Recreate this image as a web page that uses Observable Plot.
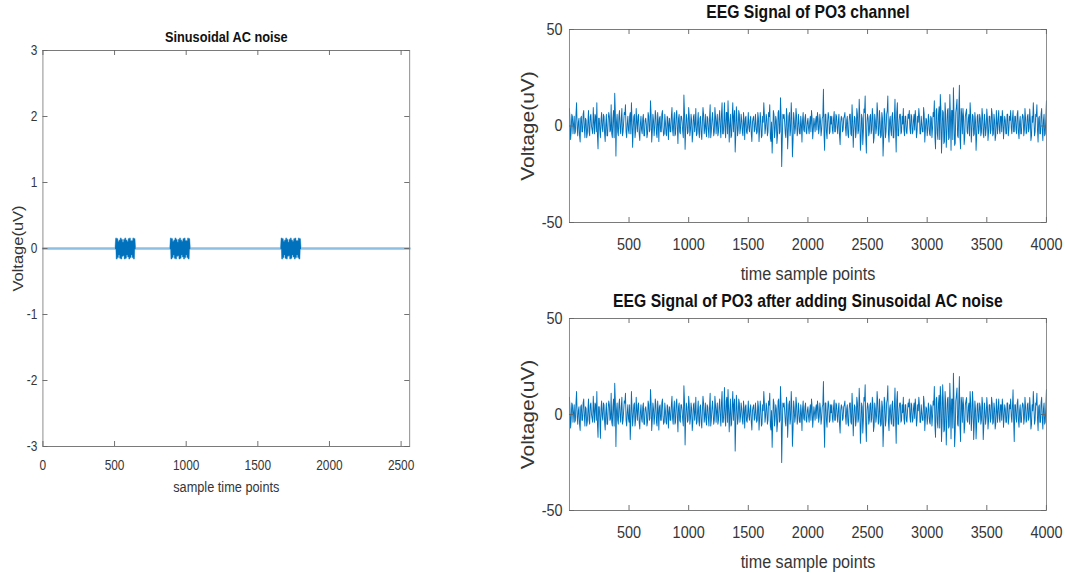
<!DOCTYPE html>
<html><head><meta charset="utf-8">
<script src="https://cdn.jsdelivr.net/npm/d3@7"></script>
<script src="https://cdn.jsdelivr.net/npm/@observablehq/plot@0.6"></script>
<style>
html,body{margin:0;padding:0;background:#fff;width:1068px;height:573px;overflow:hidden}
#stage{position:absolute;left:0;top:0;width:1257px;height:573px;transform:scaleX(0.85);transform-origin:0 0}
#stage svg{position:absolute;overflow:visible}
</style></head><body><div id="stage"></div>
<script>
// ---------- data ----------
const acTitle = "Sinusoidal AC noise";
const acXLabel = "sample time points";
const yLabelText = "Voltage(uV)";
const acXTicks = [0, 500, 1000, 1500, 2000, 2500];
const acYTicks = [-3, -2, -1, 0, 1, 2, 3];
const acLength = 2560;
const acBurstStarts = [507, 889, 1662];
const acBurstStep = 4;
const acBurst = [0, 0.15, -0.15, 0.14, -0.13, 0.1, -0.09, 0.12, -0.14, 0.15, -0.15, 0.13, -0.11, 0.09, -0.1, 0.13, -0.15, 0.15, -0.14, 0.12, -0.09, 0.1, -0.12, 0.14, -0.15, 0.15, -0.13, 0.11, -0.09, 0.11, -0.13, 0.15, -0.15, 0.14, 0];

const eegTitle = "EEG Signal of PO3 channel";
const noisyTitle = "EEG Signal of PO3 after adding Sinusoidal AC noise";
const eegXLabel = "time sample points";
const eegXTicks = [500, 1000, 1500, 2000, 2500, 3000, 3500, 4000];
const eegYTicks = [-50, 0, 50];
const sampleStep = 10;   // eegPO3 / eegPO3Noisy at samples 0,10,...,4000
const midOffset = 5;     // eegPO3Mid at samples 5,15,...,3995
const eegPO3 = [
 9, -7, 6, -4, 5, -3, 12, -5, 4, -8.3,
 5, -3, 8, -6, 3, -4, 8, -5, 6, -2,
 9.5, -4, 5, 12, -11.8, 4, -6, 7, -3, 5,
 -8, 6, -5, 7, -3, 11, -6, 8, 17, -15.5,
 6, -5, 8, -4, 9, -3, 7, 11, -6, 5,
 -4, 7, 12, -11, 5, -6, 9, -3, 6, -7.5,
 5, -4, 6, -5, 4, -6, 7, -3, 13, -8.3,
 6, -5, 8, -4, 7, -8, 5, -3, 8, -5,
 6, -4, 5, -7, 4, -3, 9.5, -5, 7, -4,
 8, -9, 6, -4, 5, -3, 16, -12, 6, -4,
 9.5, -5, 6, -8.3, 5, -3, 9, -4, 7, -6,
 5, -7, 9.5, -4, 6, -5.5, 4, -6, 11, -3,
 7, -5, 9.5, -4, 6, -3, 8, -6, 12, -4,
 12, -6, 7, 13, -8.3, 6, -5, 12, 5, -13.4,
 10, -5, 8, -4, 6, -3, 7, -7, 5, -4,
 7, -3, 5, -8, 4, -3, 6, -4, 7, -8,
 7, -6, 5, 12, -4, 6, -5, 7, 11, -8,
 -14, 8, -6, 5, -9, 7, -4, 14.6, -21, 6,
 6, -4, 9, -11.8, 5, -5, 12, -15.9, 7, -4,
 9, -5, 6, -4, 5, -8.3, 7, -3, 6, -4,
 4, -4, 5, 8, -6.6, 4, -3, 5, 7, -4,
 6, -5, 4, 19, -12.6, 6, -6.6, 7, -4, 5,
 5, -4, 7.5, -3, 5, -4, 6, -9.6, 5, -3,
 4, 7, -5, 5, -6, 6, -4, 11, -11, 5,
 -6, 9, -4, 13.8, -12.6, 6, -9.6, 8.8, 15.5, -14,
 6, -5, 5, -4, 9, -8.8, 6, -4, 12, -5,
 8, -6, 7, -15.5, 9, -6, 6, 15.5, -8.3, 5,
 -5, 7, -6, 13.8, -13.4, 12, -5, 6, -4, 5,
 9, -5, 5, -4, 6, 8, -4, 5, -3, 6,
 8, -6, 5, 9, -4, 5, -3, 9.5, -8.3, 4,
 -5, 6, -4, 5, -6, 7, 13, -11.8, 9, -7,
 10, 16.3, -14, 8, -9, 12, -11, 8, -7, 16.3,
 -12.6, 8, 19.8, -10, 7, 13.8, -6, 21.1, -11.8, 6,
 9, -9.6, 5, 8.8, -4, 6, 12, -8.3, 6, -5,
 7, -12.6, 5, -4, 6, -5, 9, -4, 6, -5,
 8.8, -7.5, 5, -4, 9, -5, 6, -7.5, 8, -4,
 8, -4, 5, 8, -6.6, 5, -4, 6, -5, 5,
 8, -4, 8, -3, 5, -4, 8, -6.6, 5, -4,
 6, -5, 9, -4, 5, -3, 8.8, -7.5, 5, 12,
 -5, 6, 11, -8.3, 5, -4, 9, -7.5, 6, -4,
 13
];
const eegPO3Mid = [
 3, -2, 5, 1, -4, 6, -1, 2, -5, 4,
 -3, 6, -1, 4, -6, 2, -3, 5, 0, -4,
 2, 6, -3, -5, 4, -2, 3, -1, 6, -4,
 1, -5, 3, 5, -2, -4, 4, -6, 7, 2,
 -3, 5, -1, 4, -5, 2, 6, -3, 1, -2,
 5, -4, 3, -1, 6, -3, 2, 5, -4, 1,
 -2, 4, -5, 3, 1, -4, 5, -2, 6, -3,
 3, -1, 5, -6, 2, 4, -3, 6, -1, -4,
 2, -5, 4, 1, -3, 5, -2, 3, -5, 6,
 -1, 4, -3, 5, 2, -6, 7, -2, 4, -3,
 5, -2, 3, -4, 6, 1, -5, 2, -3, 4,
 -4, 2, 6, -1, -3, 5, -2, 4, -6, 3,
 1, -3, 5, 2, -5, 4, -1, 6, -4, 2,
 -2, 7, -4, 3, 1, -6, 5, -3, 8, -5,
 4, -2, 6, -1, 3, -5, 2, 4, -3, 1,
 -1, 3, -4, 2, 5, -2, 1, -3, 4, -2,
 3, -5, 2, 6, -1, 4, -3, 5, -6, 2,
 -4, 6, -2, 3, -5, 8, -3, 5, -7, 4,
 2, -6, 5, -3, 7, -2, 4, -8, 3, -1,
 5, -3, 2, -4, 1, 3, -2, 4, -3, 2,
 -1, 2, -3, 4, -2, 1, 3, -2, 4, -1,
 3, -2, 5, -4, 6, -3, 2, 5, -3, 1,
 -2, 4, -3, 6, -1, 3, -5, 2, 4, -2,
 5, -1, 3, -4, 2, 6, -5, 3, -2, 4,
 -3, 6, -2, 5, -7, 4, -3, 7, -5, 2,
 4, -3, 6, -2, 5, -6, 3, -1, 7, -4,
 2, -5, 4, -7, 6, -3, 8, -4, 3, -2,
 5, -6, 4, -2, 7, -5, 3, 6, -3, 1,
 -2, 5, -3, 2, 4, -1, 6, -4, 3, -2,
 4, -3, 2, 5, -4, 1, -3, 6, -2, 3,
 -2, 3, -5, 4, -1, 5, -6, 8, -4, 6,
 -7, 9, -5, 7, -8, 6, -4, 9, -6, 5,
 8, -7, 6, -9, 10, -5, 7, -6, 9, -4,
 5, -6, 7, -3, 4, -5, 6, -2, 5, -4,
 3, -5, 6, -2, 4, -3, 5, -6, 2, -1,
 4, -3, 5, -2, 6, -4, 3, -5, 2, 4,
 -2, 5, -3, 4, -1, 3, -4, 6, -2, 3,
 -1, 4, -3, 5, -2, 6, -3, 2, -4, 3,
 5, -2, 4, -3, 6, -1, 3, -5, 2, 4,
 -3, 5, -2, 4, -4, 6, -2, 3, -5, 4
];
const eegPO3Noisy = [
 9, -7, 6, -4, 5, -3, 12, -5, 4, -8.3,
 5, -3, 8, -6, 3, -4, 8, -5, 6, -2,
 9.5, -4, 5, 12, -11.8, 4, -12.3, 7, -3, 5,
 -8, 6, -5, 7, -3, 11, -6, 8, 16.3, -16.7,
 6, -5, 8, -4, 9, -3, 7, 11, -6, 5,
 -4, -13, 12, -6, 5, -6, 9, -3, 6, -7.5,
 5, -4, 6, -5, 4, -6, 7, -3, 13, -8.3,
 6, -5, 8, -4, 7, -8, 5, -3, 8, -5,
 6, -4, 5, -7, 4, -3, 9.5, -5, 7, -4,
 8, -9, 6, -4, 5, -3, 15, -15.8, 6, -4,
 9.5, -5, 6, -8.3, 5, -3, 9, -4, 7, -6,
 5, -7, 9.5, -4, 6, -5.5, 4, -6, 11, -3,
 7, -5, 9.5, -4, 6, -3, 8, -6, 12, -4,
 14, -6, 9, 13, -9, 8, -5, 12, 5, -19,
 10, -5, 8, -4, 6, -3, 7, -7, 5, -4,
 7, -3, 5, -8, 4, -3, 6, -4, 7, -8,
 7, -6, 5, 12, -4, 6, -5, 7, 11, -8,
 -17, 8, -6, 5, -9, 7, -4, 14.6, -25, 6,
 6, -4, 9, -11.8, 5, -5, 12, -16.5, 7, -4,
 9, -5, 6, -4, 5, -8.3, 7, -3, 6, -4,
 4, -4, 5, 8, -6.6, 4, -3, 5, 7, -4,
 6, -5, 4, 17.2, -17, 6, -6.6, 7, -4, 5,
 5, -4, 7.5, -3, 5, -4, 6, -9.6, 5, -3,
 4, 7, -5, 5, -6, 6, -4, 11, -11, 5,
 -6, 9, -4, 13.7, -15, 6, -9.6, 8.8, 15.5, -14,
 6, -5, 5, -4, 9, -8.8, 6, -4, 12, -5,
 8, -6, 7, -16.7, 9, -6, 6, 15, -8.3, 5,
 -5, 7, -6, 13.8, -15, 12, -5, 6, -4, 5,
 9, -5, 5, -4, 6, 8, -4, 5, -3, 6,
 8, -6, 5, 9, -4, 5, -3, 9.5, -8.3, 4,
 -5, 6, -4, 5, -6, 7, 14.6, -11.8, 9, -7,
 10, 14.6, -14, 15.5, -9, 12, -15.8, 8, -7, 16.3,
 -12.6, 8, 21.5, -16.7, 7, 13.8, -6, 19.8, -14, 6,
 9, -9.6, 5, 8.8, -4, 6, 12, -8.3, 12, -13,
 7, -12.6, 5, -4, 6, -5, 9, -13, 6, -5,
 8.8, -7.5, 5, -4, 9, -5, 6, -7.5, 8, -4,
 8, -4, 5, 8, -6.6, 5, -4, 6, -5, 5,
 8, -4, 12.8, -14, 5, -4, 8, -6.6, 5, -4,
 6, -5, 9, -4, 5, -3, 8.8, -7.5, 5, 12,
 -5, 6, 11, -8.3, 5, -4, 9, -7.5, 6, -4,
 13
];

// ---------- tables ----------
const acRows = [{t: 0, v: 0, b: -1}];
acBurstStarts.forEach((s, b) => acBurst.forEach((v, j) => acRows.push({t: s + j * acBurstStep, v, b})));
acRows.push({t: acLength, v: 0, b: -1});
function traceRows(main, mid) {
  const rows = [];
  main.forEach((v, i) => {
    rows.push({t: i * sampleStep, v});
    if (i < mid.length) rows.push({t: i * sampleStep + midOffset, v: mid[i]});
  });
  return rows;
}
const eegRows = traceRows(eegPO3, eegPO3Mid);
const noisyRows = traceRows(eegPO3Noisy, eegPO3Mid);

// ---------- drawing ----------
const FONT = "'Liberation Sans', Arial, Helvetica, sans-serif";
const BLUE = "#0072BD";
const stage = document.getElementById("stage");

function panel(o) {
  const pw = o.width - o.ml - o.mr, ph = o.height - o.mt - o.mb;
  const svg = Plot.plot({
    width: o.width, height: o.height,
    marginLeft: o.ml, marginRight: o.mr, marginTop: o.mt, marginBottom: o.mb,
    x: {domain: o.xDomain, axis: null},
    y: {domain: o.yDomain, axis: null},
    style: {fontFamily: FONT, color: "#363636", background: "transparent", overflow: "visible"},
    marks: [
      ...o.lines,
      Plot.frame({stroke: "#7a7a7a", strokeWidth: 1}),
      Plot.tickX(o.xTicks, {x: d => d, insetTop: ph - o.tick, stroke: "#666"}),
      Plot.tickX(o.xTicks, {x: d => d, insetBottom: ph - o.tick, stroke: "#666"}),
      Plot.tickY(o.yTicks, {y: d => d, insetRight: pw - o.tickY, stroke: "#666"}),
      Plot.tickY(o.yTicks, {y: d => d, insetLeft: pw - o.tickY, stroke: "#666"}),
      Plot.axisX(o.xTicks, {tickSize: 0, tickPadding: o.xPad, fontSize: o.tickFont, tickFormat: d => String(d), label: null}),
      Plot.axisY(o.yTicks, {tickSize: 0, tickPadding: o.yPad, fontSize: o.tickFont, tickFormat: d => String(d), label: null}),
      Plot.text([o.title], {text: d => d, frameAnchor: "top", textAnchor: "middle", lineAnchor: "middle", dy: o.titleDy, fontSize: o.titleFont, fontWeight: "bold", fill: "#111"}),
      Plot.text([o.xLabel], {text: d => d, frameAnchor: "bottom", textAnchor: "middle", lineAnchor: "middle", dy: o.xLabelDy, fontSize: o.labelFont, fill: "#363636"}),
      Plot.text([o.yLabel], {text: d => d, frameAnchor: "left", textAnchor: "middle", lineAnchor: "middle", dx: o.yLabelDx, rotate: -90, fontSize: o.yLabelFont, fill: "#363636"})
    ]
  });
  svg.style.left = o.left + "px";
  svg.style.top = o.top + "px";
  stage.appendChild(svg);
}

// left: Sinusoidal AC noise
panel({
  left: 0, top: 0, width: 510, height: 500, ml: 50, mr: 28.5, mt: 50, mb: 54,
  xDomain: [0, acLength], yDomain: [-3, 3],
  xTicks: acXTicks, yTicks: acYTicks, tick: 5, tickY: 5.9,
  xPad: 14, yPad: 6.5, tickFont: 14,
  title: acTitle, titleDy: -13, titleFont: 15,
  xLabel: acXLabel, xLabelDy: 41, labelFont: 15,
  yLabel: yLabelText, yLabelDx: -29, yLabelFont: 16.5,
  lines: [
    Plot.line(acRows, {x: "t", y: "v", stroke: BLUE, strokeOpacity: 0.45, strokeWidth: 2.4}),
    Plot.line(acRows.filter(d => d.b >= 0), {x: "t", y: "v", z: "b", stroke: BLUE, strokeWidth: 1.3})
  ]
});

// right top: EEG PO3
panel({
  left: 600, top: 0, width: 650, height: 290, ml: 69.4, mr: 19.4, mt: 29, mb: 68,
  xDomain: [0, 4000], yDomain: [-50, 50],
  xTicks: eegXTicks, yTicks: eegYTicks, tick: 5, tickY: 5.9,
  xPad: 15, yPad: 8, tickFont: 17,
  title: eegTitle, titleDy: -17, titleFont: 18.5,
  xLabel: eegXLabel, xLabelDy: 51, labelFont: 19,
  yLabel: yLabelText, yLabelDx: -48, yLabelFont: 21,
  lines: [Plot.line(eegRows, {x: "t", y: "v", stroke: BLUE, strokeWidth: 1.1})]
});

// right bottom: EEG PO3 + AC noise
panel({
  left: 600, top: 290, width: 650, height: 283, ml: 69.4, mr: 19.4, mt: 28, mb: 63,
  xDomain: [0, 4000], yDomain: [-50, 50],
  xTicks: eegXTicks, yTicks: eegYTicks, tick: 5, tickY: 5.9,
  xPad: 15, yPad: 8, tickFont: 17,
  title: noisyTitle, titleDy: -17, titleFont: 18.5,
  xLabel: eegXLabel, xLabelDy: 51, labelFont: 19,
  yLabel: yLabelText, yLabelDx: -48, yLabelFont: 21,
  lines: [Plot.line(noisyRows, {x: "t", y: "v", stroke: BLUE, strokeWidth: 1.1})]
});
</script></body></html>
